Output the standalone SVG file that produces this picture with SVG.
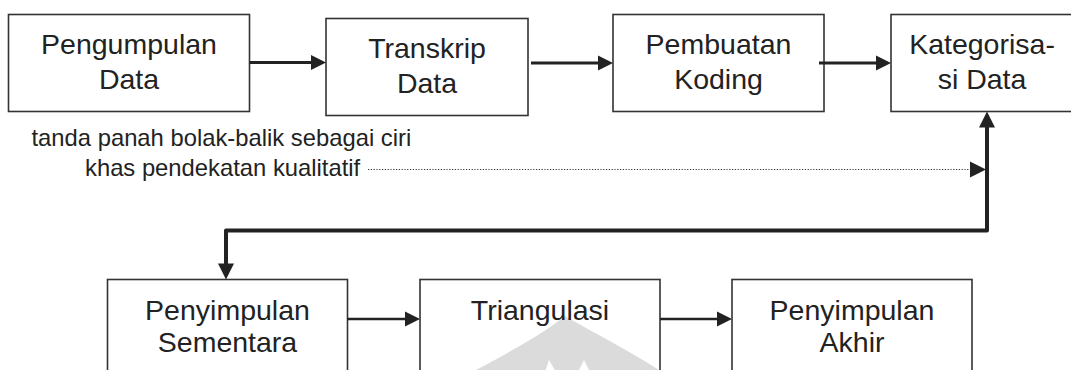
<svg xmlns="http://www.w3.org/2000/svg" xmlns:xlink="http://www.w3.org/1999/xlink" width="1071" height="370" viewBox="0 0 1071 370">
  <style>
    .box { fill: #ffffff; stroke: #333333; stroke-width: 1.6; }
    .lbl { font-family: "Liberation Sans", Arial, sans-serif; font-size: 28.5px; fill: #222222; text-anchor: middle; }
    .note { font-family: "Liberation Sans", Arial, sans-serif; font-size: 23.8px; fill: #222222; }
    .flow { fill: none; stroke: #222222; stroke-width: 3; }
    .flow-thin { fill: none; stroke: #222222; stroke-width: 2.5; }
    .loop { fill: none; stroke: #222222; stroke-width: 4; stroke-linejoin: round; }
    .dots { fill: none; stroke: #333333; stroke-width: 1.2; stroke-dasharray: 1.2 1.6; }
    .head { fill: #222222; }
    .mark { fill: #000000; fill-opacity: 0.14; }
  </style>
  <defs>
    <!-- arrowhead with its tip at the origin, pointing along +x -->
    <path id="ah" d="M0,0 L-15,-7.5 L-15,7.5 Z"/>
    <path id="ahL" d="M0,0 L-16,-8 L-16,8 Z"/>
  </defs>

  <rect width="1071" height="370" fill="#ffffff"/>

  <!-- process steps -->
  <g id="pengumpulan">
    <rect class="box" x="8.5" y="14.5" width="241" height="97"/>
    <text class="lbl" x="129" y="54">Pengumpulan</text>
    <text class="lbl" x="129" y="89">Data</text>
  </g>
  <g id="transkrip">
    <rect class="box" x="326" y="18.5" width="202" height="97"/>
    <text class="lbl" x="427" y="58">Transkrip</text>
    <text class="lbl" x="427" y="93">Data</text>
  </g>
  <g id="koding">
    <rect class="box" x="613" y="14.5" width="211" height="97"/>
    <text class="lbl" x="718.5" y="54">Pembuatan</text>
    <text class="lbl" x="718.5" y="89">Koding</text>
  </g>
  <g id="kategorisasi">
    <rect class="box" x="891" y="14.5" width="190" height="97"/>
    <text class="lbl" x="982" y="54">Kategorisa-</text>
    <text class="lbl" x="982" y="89">si Data</text>
  </g>
  <g id="sementara">
    <rect class="box" x="107.5" y="279.5" width="240" height="120"/>
    <text class="lbl" x="227.5" y="320">Penyimpulan</text>
    <text class="lbl" x="227.5" y="352">Sementara</text>
  </g>
  <g id="triangulasi">
    <rect class="box" x="420" y="279.5" width="240" height="120"/>
    <text class="lbl" x="540" y="320">Triangulasi</text>
  </g>
  <g id="akhir">
    <rect class="box" x="732" y="279.5" width="240" height="120"/>
    <text class="lbl" x="852" y="320">Penyimpulan</text>
    <text class="lbl" x="852" y="352">Akhir</text>
  </g>

  <!-- faint emblem printed over the lower row -->
  <g id="emblem">
    <path class="mark" d="M565,316 C548,330 518,348 472,372 L545,372 L549,360 L556,372 L578,372 L584,360 L590,372 L662,372 C632,352 592,332 565,316 Z"/>
  </g>

  <!-- annotation -->
  <g id="catatan">
    <text class="note" x="31.5" y="146">tanda panah bolak-balik sebagai ciri</text>
    <text class="note" x="85" y="176">khas pendekatan kualitatif</text>
  </g>

  <!-- connectors -->
  <g id="connectors">
    <line class="flow" x1="249.5" y1="62.5" x2="313" y2="62.5"/>
    <use xlink:href="#ah" class="head" transform="translate(326,62.5)"/>
    <line class="flow" x1="531" y1="63" x2="600" y2="63"/>
    <use xlink:href="#ah" class="head" transform="translate(613,63)"/>
    <line class="flow" x1="819" y1="63" x2="878" y2="63"/>
    <use xlink:href="#ah" class="head" transform="translate(891,63)"/>

    <!-- two-way loop between the categories and the provisional conclusion -->
    <polyline class="loop" points="987,125 987,230.5 226,230.5 226,266"/>
    <use xlink:href="#ahL" class="head" transform="translate(987,111.5) rotate(-90)"/>
    <use xlink:href="#ahL" class="head" transform="translate(226,279.5) rotate(90)"/>

    <line class="dots" x1="368" y1="169.5" x2="972" y2="169.5"/>
    <use xlink:href="#ahL" class="head" transform="translate(986,169.5)"/>

    <line class="flow-thin" x1="347.5" y1="319" x2="407" y2="319"/>
    <use xlink:href="#ah" class="head" transform="translate(420,319)"/>
    <line class="flow-thin" x1="660" y1="319" x2="719" y2="319"/>
    <use xlink:href="#ah" class="head" transform="translate(732,319)"/>
  </g>
</svg>
